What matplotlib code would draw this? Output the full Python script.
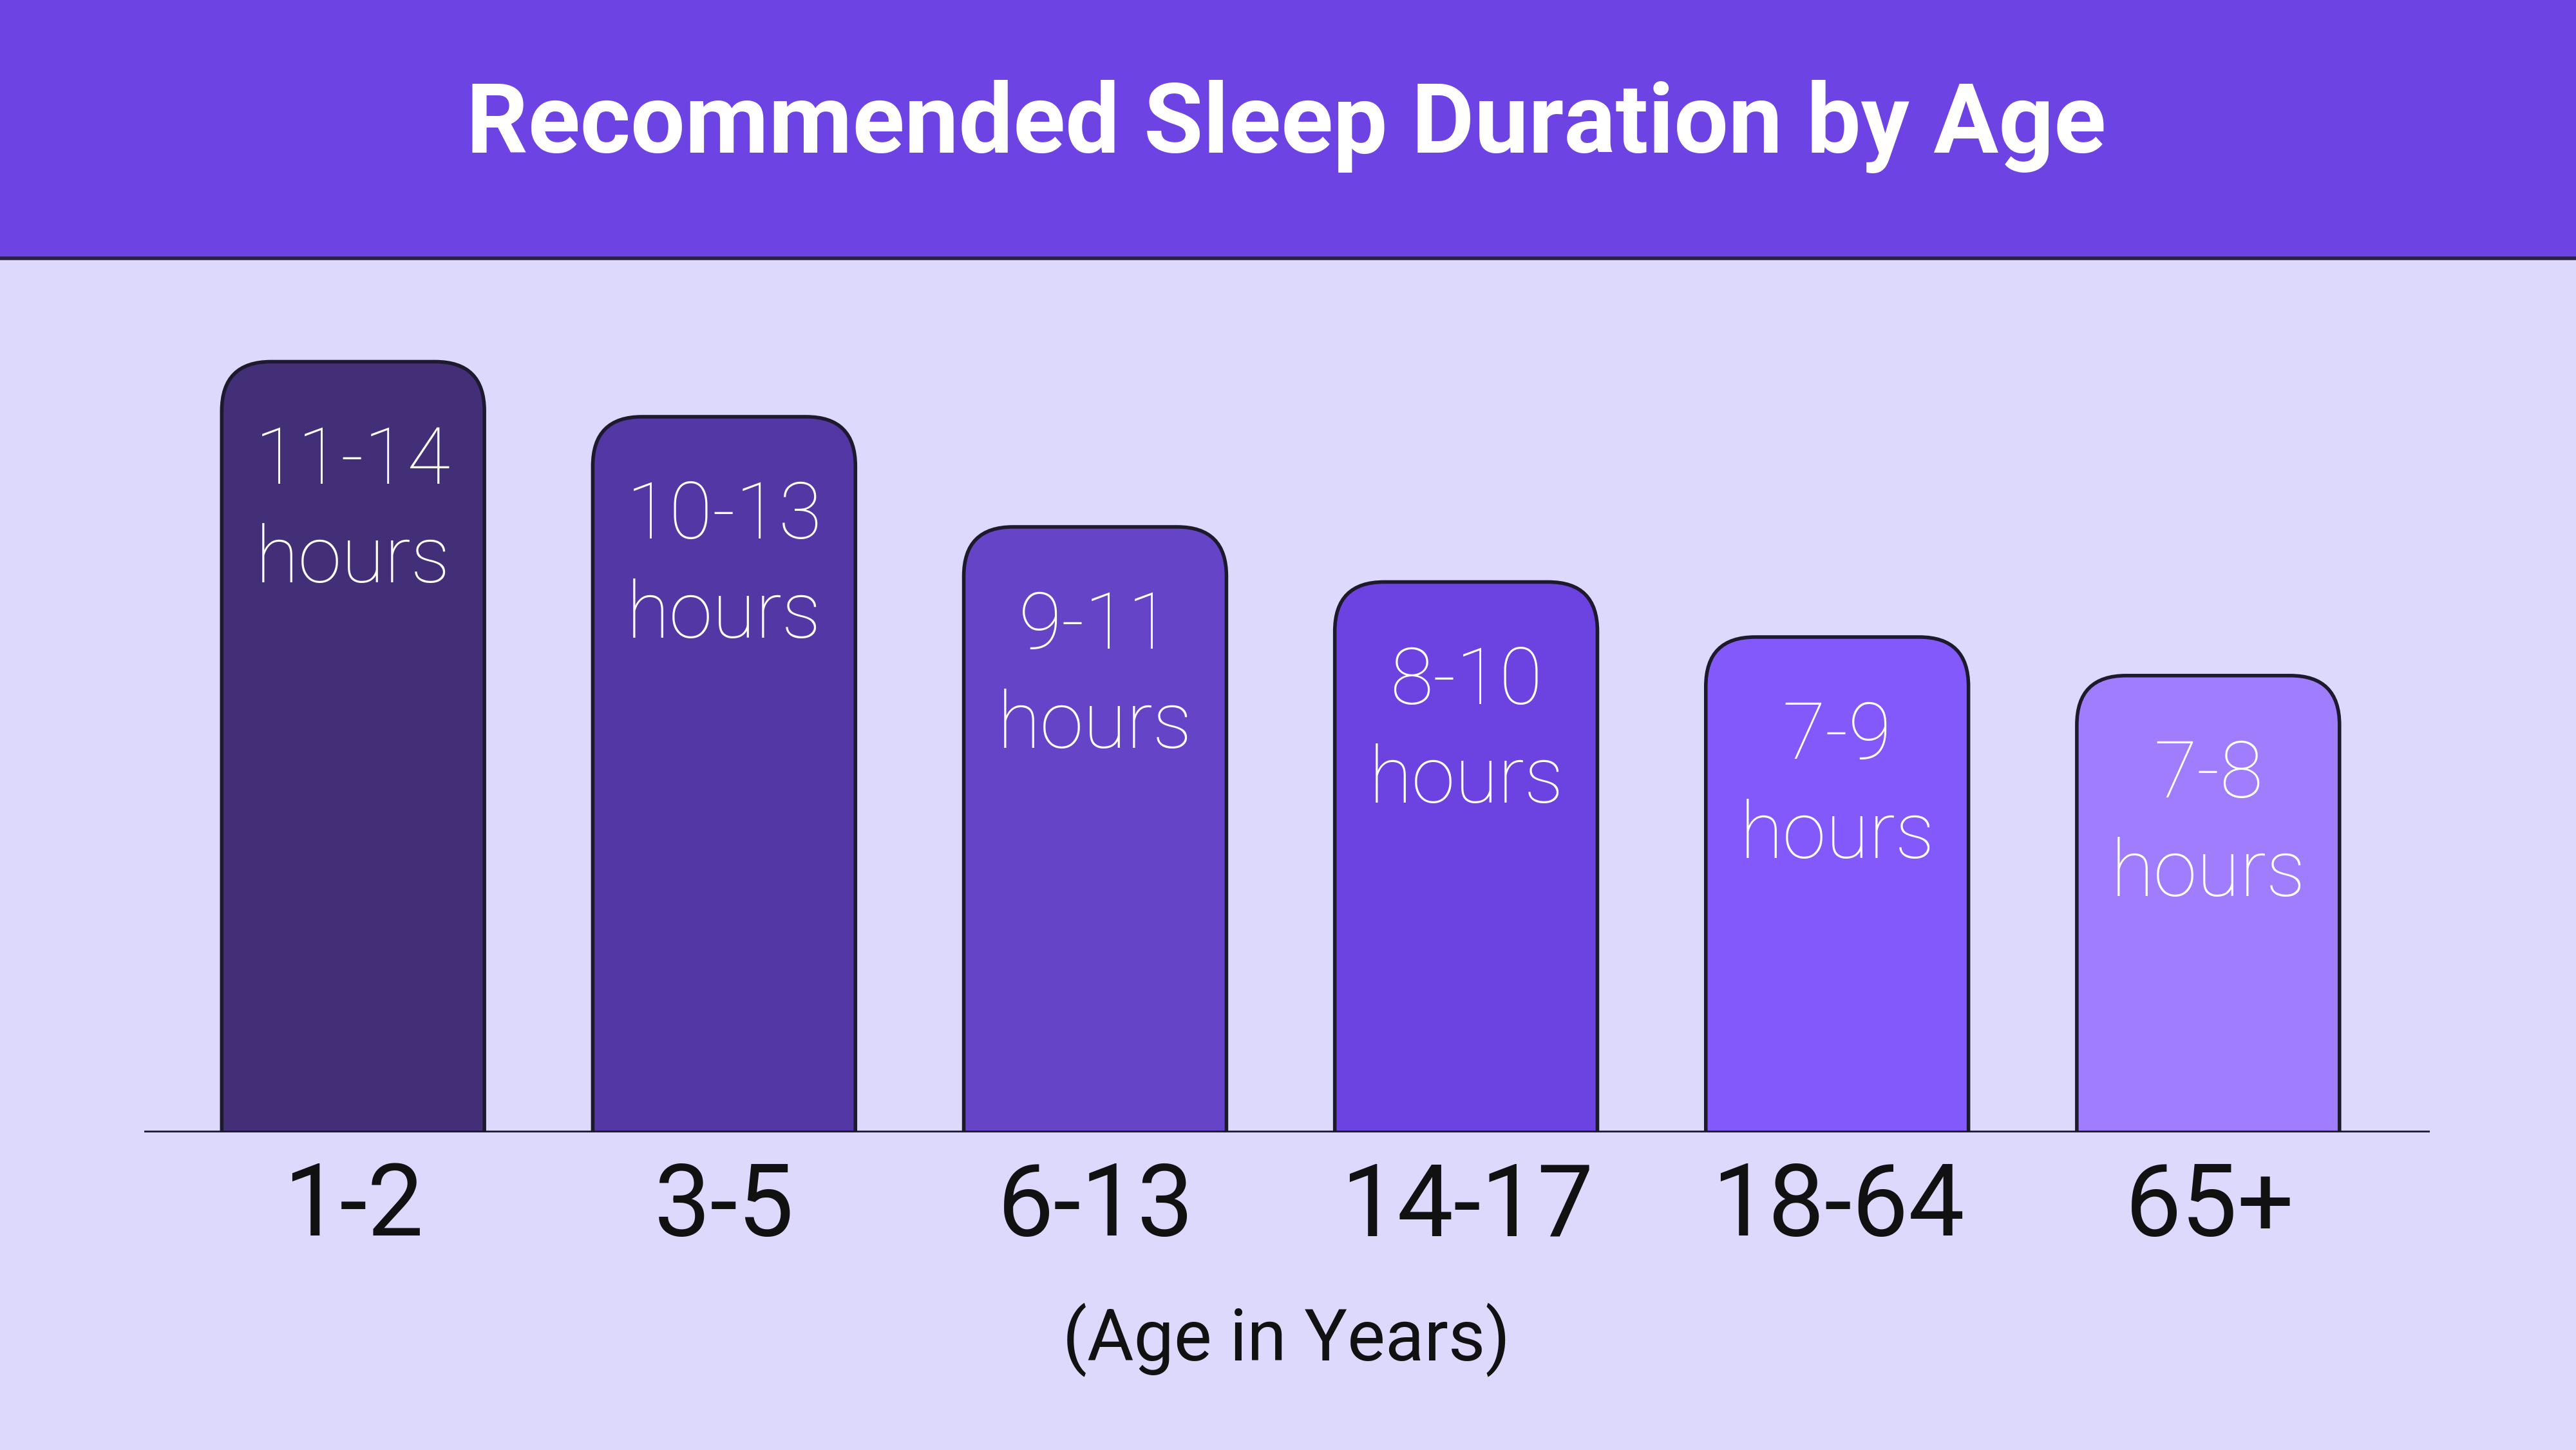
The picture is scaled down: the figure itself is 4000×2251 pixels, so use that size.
import matplotlib.pyplot as plt
from matplotlib.patches import FancyBboxPatch, Rectangle

# data
ages = ['1-2', '3-5', '6-13', '14-17', '18-64', '65+']
ranges = ['11-14', '10-13', '9-11', '8-10', '7-9', '7-8']
upper = [14, 13, 11, 10, 9, 8.3]
colors = ['#432e78', '#5237a5', '#6644c8', '#6c42e0', '#8459fb', '#a07dfc']

W, H = 1568, 882  # reference layout units
fig = plt.figure(figsize=(40, 22.51), dpi=100)
fig.patch.set_facecolor('#ddd9fd')

# header band
fig.patches.append(Rectangle((0, 1 - 157 / H), 1, 157 / H, transform=fig.transFigure,
                             facecolor='#6d44e3', edgecolor='none', zorder=0))
fig.lines.append(plt.Line2D([0, 1], [1 - 157 / H] * 2, transform=fig.transFigure,
                            color='#2a2040', lw=4))
fig.text(783 / W, 1 - 77 / H, 'Recommended Sleep Duration by Age', ha='center', va='center',
         color='white', fontsize=108, fontweight='bold', family='Roboto')

px_y = 33.5   # pixels per hour
px_x = 226    # pixels per category
left, right, base, top = 88, 1479, 689, 160
ax = fig.add_axes([left / W, 1 - base / H, (right - left) / W, (base - top) / H])
ax.set_xlim(-127 / px_x, 5 + 135 / px_x)
ax.set_ylim(0, (base - top) / px_y)
ax.axis('off')

bw = 160 / px_x
r = 30 / px_x
for i, (u, c, rg) in enumerate(zip(upper, colors, ranges)):
    box = FancyBboxPatch((i - bw / 2, -3), bw, u + 3,
                         boxstyle=f'round,pad=0,rounding_size={r}',
                         mutation_aspect=px_x / px_y, facecolor=c,
                         edgecolor='#1e1a2e', lw=4, zorder=2)
    ax.add_patch(box)
    ax.text(i, u - 61 / px_y, rg, ha='center', va='center', color='white',
            fontsize=88, fontweight='light', family='Roboto', zorder=3)
    ax.text(i, u - 121 / px_y, 'hours', ha='center', va='center', color='white',
            fontsize=88, fontweight='light', family='Roboto', zorder=3)
    fig.text((215 + i * px_x) / W, 1 - 735 / H, ages[i], ha='center', va='center',
             color='#111111', fontsize=112, family='Roboto')
ax.axhline(0, color='#1e1a2e', lw=4, zorder=4)

fig.text(783 / W, 1 - 815 / H, '(Age in Years)', ha='center', va='center',
         color='#111111', fontsize=80, family='Roboto')

fig.savefig('out.png', facecolor=fig.get_facecolor())
